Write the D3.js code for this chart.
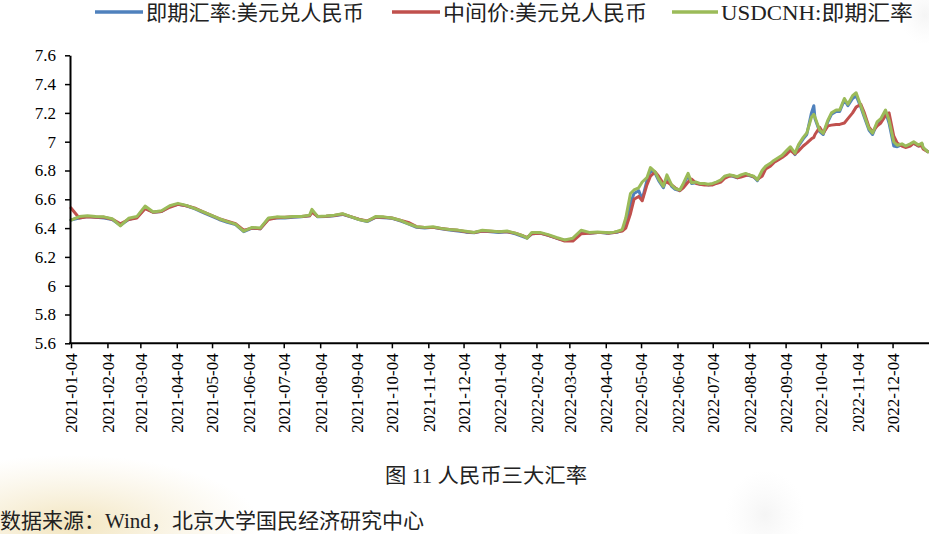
<!DOCTYPE html>
<html><head><meta charset="utf-8">
<script src="https://cdn.jsdelivr.net/npm/d3@7"></script>
<style>
html,body{margin:0;padding:0;background:#fff;}
svg{display:block;}
</style></head>
<body>
<svg id="chart" width="929" height="534"></svg>
<script>
// ---------- DATA ----------
const dates = [
 "2021-01-04","2021-01-11","2021-01-18","2021-01-25","2021-02-01","2021-02-08","2021-02-15","2021-02-22","2021-03-01","2021-03-08","2021-03-15","2021-03-22","2021-03-29",
 "2021-04-05","2021-04-12","2021-04-19","2021-04-26","2021-05-03","2021-05-10","2021-05-17","2021-05-24","2021-05-31","2021-06-07","2021-06-14","2021-06-21","2021-06-28",
 "2021-07-05","2021-07-12","2021-07-19","2021-07-26","2021-07-28","2021-08-02","2021-08-09","2021-08-16","2021-08-23","2021-08-30","2021-09-06","2021-09-13","2021-09-20","2021-09-27",
 "2021-10-04","2021-10-11","2021-10-18","2021-10-25","2021-11-01","2021-11-08","2021-11-15","2021-11-22","2021-11-29","2021-12-06","2021-12-13","2021-12-20","2021-12-27",
 "2022-01-03","2022-01-10","2022-01-17","2022-01-24","2022-01-27","2022-01-31","2022-02-07","2022-02-14","2022-02-21","2022-02-28","2022-03-07","2022-03-14","2022-03-21","2022-03-28",
 "2022-03-31","2022-04-04","2022-04-07","2022-04-11","2022-04-14","2022-04-18","2022-04-21","2022-04-25","2022-04-28",
 "2022-05-02","2022-05-05","2022-05-09","2022-05-12","2022-05-16","2022-05-19","2022-05-23","2022-05-26","2022-05-30",
 "2022-06-02","2022-06-06","2022-06-09","2022-06-13","2022-06-16","2022-06-20","2022-06-23","2022-06-27","2022-06-30",
 "2022-07-04","2022-07-07","2022-07-11","2022-07-14","2022-07-18","2022-07-21","2022-07-25","2022-07-28",
 "2022-08-01","2022-08-04","2022-08-08","2022-08-11","2022-08-15","2022-08-18","2022-08-22","2022-08-25","2022-08-29",
 "2022-09-01","2022-09-05","2022-09-08","2022-09-12","2022-09-15","2022-09-19","2022-09-22","2022-09-26","2022-09-28","2022-09-29",
 "2022-10-03","2022-10-06","2022-10-10","2022-10-13","2022-10-17","2022-10-20","2022-10-24","2022-10-27","2022-10-31",
 "2022-11-03","2022-11-07","2022-11-10","2022-11-14","2022-11-17","2022-11-21","2022-11-24","2022-11-28",
 "2022-12-01","2022-12-05","2022-12-08","2022-12-12","2022-12-15","2022-12-19","2022-12-22","2022-12-26","2022-12-29","2022-12-30",
 "2023-01-03"
];
// 即期汇率:美元兑人民币
const spotCNY = [
 6.456,6.47,6.48,6.475,6.47,6.46,6.42,6.46,6.475,6.54,6.51,6.515,6.55,
 6.565,6.555,6.535,6.51,6.485,6.46,6.44,6.425,6.375,6.40,6.395,6.465,6.47,
 6.47,6.475,6.478,6.485,6.52,6.478,6.48,6.485,6.495,6.478,6.46,6.445,6.475,6.472,
 6.468,6.45,6.43,6.405,6.40,6.405,6.395,6.386,6.38,6.372,6.368,6.38,6.375,
 6.37,6.375,6.36,6.34,6.33,6.36,6.365,6.35,6.33,6.315,6.325,6.375,6.365,6.37,
 6.37,6.365,6.365,6.37,6.372,6.385,6.43,6.57,6.64,
 6.66,6.60,6.73,6.80,6.78,6.73,6.68,6.75,6.69,
 6.67,6.66,6.70,6.765,6.71,6.715,6.705,6.705,6.70,
 6.705,6.715,6.73,6.755,6.765,6.76,6.75,6.765,
 6.77,6.765,6.755,6.73,6.79,6.82,6.84,6.86,6.88,
 6.90,6.93,6.955,6.91,6.97,7.02,7.05,7.20,7.25,7.16,
 7.07,7.05,7.14,7.19,7.21,7.21,7.29,7.25,7.30,
 7.32,7.24,7.17,7.08,7.05,7.13,7.15,7.21,
 7.13,6.97,6.965,6.98,6.965,6.98,6.99,6.97,6.985,6.955,
 6.93
];
// 中间价:美元兑人民币
const centralParity = [
 6.54,6.47,6.478,6.475,6.475,6.462,6.43,6.46,6.47,6.535,6.51,6.515,6.545,
 6.565,6.555,6.54,6.515,6.49,6.465,6.448,6.43,6.385,6.40,6.395,6.46,6.472,
 6.475,6.478,6.48,6.485,6.51,6.48,6.482,6.488,6.498,6.48,6.462,6.45,6.475,6.475,
 6.47,6.455,6.44,6.41,6.405,6.405,6.398,6.39,6.385,6.375,6.37,6.38,6.378,
 6.375,6.375,6.365,6.345,6.335,6.36,6.365,6.35,6.33,6.31,6.31,6.36,6.365,6.37,
 6.37,6.368,6.365,6.37,6.375,6.38,6.40,6.50,6.60,
 6.62,6.59,6.70,6.76,6.79,6.76,6.71,6.72,6.70,
 6.68,6.66,6.68,6.72,6.74,6.71,6.705,6.70,6.70,
 6.70,6.71,6.72,6.745,6.76,6.765,6.75,6.755,
 6.765,6.77,6.755,6.74,6.76,6.81,6.83,6.855,6.875,
 6.89,6.915,6.94,6.915,6.935,6.97,6.99,7.02,7.03,7.05,
 7.10,7.06,7.11,7.115,7.12,7.12,7.13,7.16,7.20,
 7.24,7.26,7.20,7.10,7.07,7.11,7.13,7.18,
 7.20,7.04,6.99,6.97,6.96,6.97,6.99,6.97,6.97,6.95,
 6.93
];
// USDCNH:即期汇率
const usdCNH = [
 6.456,6.48,6.485,6.48,6.478,6.465,6.415,6.468,6.48,6.553,6.512,6.52,6.555,
 6.572,6.558,6.537,6.515,6.49,6.465,6.445,6.428,6.378,6.405,6.40,6.47,6.478,
 6.476,6.48,6.48,6.49,6.53,6.48,6.484,6.49,6.50,6.48,6.46,6.448,6.48,6.478,
 6.47,6.455,6.43,6.41,6.405,6.41,6.398,6.39,6.386,6.378,6.37,6.385,6.38,
 6.375,6.38,6.365,6.345,6.33,6.37,6.37,6.355,6.335,6.318,6.33,6.385,6.37,6.373,
 6.372,6.37,6.368,6.372,6.378,6.39,6.47,6.64,6.665,
 6.68,6.72,6.75,6.82,6.79,6.74,6.69,6.77,6.70,
 6.675,6.665,6.71,6.78,6.715,6.72,6.71,6.71,6.705,
 6.71,6.72,6.735,6.76,6.77,6.765,6.757,6.77,
 6.78,6.77,6.76,6.735,6.80,6.83,6.85,6.87,6.89,
 6.905,6.94,6.965,6.92,6.98,7.03,7.06,7.17,7.19,7.17,
 7.08,7.058,7.15,7.20,7.22,7.22,7.30,7.26,7.32,
 7.34,7.25,7.18,7.09,7.06,7.14,7.16,7.22,
 7.15,7.00,6.975,6.985,6.97,6.985,7.00,6.977,6.99,6.96,
 6.93
];
const seriesNames = ["即期汇率:美元兑人民币","中间价:美元兑人民币","USDCNH:即期汇率"];
const seriesColors = ["#4F81BD","#C0504D","#9BBB59"];
const xTickLabels = ["2021-01-04","2021-02-04","2021-03-04","2021-04-04","2021-05-04","2021-06-04","2021-07-04","2021-08-04","2021-09-04","2021-10-04","2021-11-04","2021-12-04",
 "2022-01-04","2022-02-04","2022-03-04","2022-04-04","2022-05-04","2022-06-04","2022-07-04","2022-08-04","2022-09-04","2022-10-04","2022-11-04","2022-12-04"];
const yTickLabels = ["5.6","5.8","6","6.2","6.4","6.6","6.8","7","7.2","7.4","7.6"];
const titleText = "图 11  人民币三大汇率";
const sourceText = "数据来源：Wind，北京大学国民经济研究中心";

// ---------- CHART ----------
const svg = d3.select("#chart");
const parse = d3.timeParse("%Y-%m-%d");
const serif = "'Liberation Serif','Times New Roman',serif";
const cjk = "'Liberation Serif','Noto Sans CJK SC',serif";

// background tint
const defs = svg.append("defs");
const g1 = defs.append("radialGradient").attr("id","bl").attr("cx","50%").attr("cy","50%").attr("r","50%");
g1.append("stop").attr("offset","0%").attr("stop-color","#eedca8").attr("stop-opacity",0.75);
g1.append("stop").attr("offset","100%").attr("stop-color","#f3e6c4").attr("stop-opacity",0);
svg.append("ellipse").attr("cx",70).attr("cy",525).attr("rx",190).attr("ry",70).attr("fill","url(#bl)");
const g2 = defs.append("radialGradient").attr("id","wm").attr("cx","50%").attr("cy","50%").attr("r","50%");
g2.append("stop").attr("offset","0%").attr("stop-color","#e2e2e2").attr("stop-opacity",0.35);
g2.append("stop").attr("offset","100%").attr("stop-color","#eeeeee").attr("stop-opacity",0);
svg.append("ellipse").attr("cx",765).attr("cy",515).attr("rx",40).attr("ry",45).attr("fill","url(#wm)");
svg.append("ellipse").attr("cx",925).attr("cy",15).attr("rx",25).attr("ry",30).attr("fill","url(#wm)");

const x = d3.scaleTime().domain([parse("2021-01-04"), parse("2023-01-04")]).range([71, 929]);
const y = d3.scaleLinear().domain([5.6, 7.6]).range([343.3, 55.3]);

const series = [spotCNY, centralParity, usdCNH].map((vals, i) => ({
  name: seriesNames[i], color: seriesColors[i],
  values: dates.map((d, j) => ({date: parse(d), v: vals[j]}))
}));

const line = d3.line().x(d => x(d.date)).y(d => y(d.v));
svg.append("g").selectAll("path").data(series).join("path")
  .attr("d", d => line(d.values))
  .attr("fill","none").attr("stroke", d => d.color)
  .attr("stroke-width",3).attr("stroke-linejoin","round").attr("stroke-linecap","round");

// Y axis
const yAxis = d3.axisLeft(y).tickValues(yTickLabels.map(Number))
  .tickFormat((d,i) => yTickLabels[i]).tickSize(5).tickSizeOuter(0).tickPadding(9);
const gy = svg.append("g").attr("transform","translate(70,0)").call(yAxis);
gy.select(".domain").attr("stroke","#000").attr("stroke-width",2);
gy.selectAll(".tick line").attr("stroke","#000").attr("stroke-width",1.5);
gy.selectAll("text").attr("font-family",serif).attr("font-size","17px").attr("fill","#000");

// X axis
const xAxis = d3.axisBottom(x).tickValues(xTickLabels.map(parse))
  .tickFormat((d,i) => xTickLabels[i]).tickSize(5).tickSizeOuter(0);
const gx = svg.append("g").attr("transform","translate(0,343.3)").call(xAxis);
gx.select(".domain").remove();
gx.append("line").attr("x1",69).attr("x2",929).attr("y1",0).attr("y2",0).attr("stroke","#000").attr("stroke-width",2);
gx.selectAll(".tick line").attr("stroke","#000").attr("stroke-width",1.5);
gx.selectAll("text").attr("font-family",serif).attr("font-size","17px").attr("fill","#000")
  .attr("text-anchor","end").attr("transform","rotate(-90)")
  .attr("x",-10).attr("y",0).attr("dy","0.35em");

// Legend
const legendPos = [[95,143,146,218],[392,440,443,204],[672,718,721,192]];
const lg = svg.append("g");
series.forEach((s,i) => {
  const p = legendPos[i];
  lg.append("line").attr("x1",p[0]).attr("x2",p[1]).attr("y1",12).attr("y2",12)
    .attr("stroke",s.color).attr("stroke-width",3.5);
  lg.append("text").attr("x",p[2]).attr("y",20).text(s.name)
    .attr("font-family",cjk).attr("font-size","21px").attr("fill","#222")
    .attr("textLength",p[3]).attr("lengthAdjust","spacingAndGlyphs");
});

// Title & source
svg.append("text").attr("x",486).attr("y",483).attr("text-anchor","middle")
  .attr("font-family",cjk).attr("font-size","20px").attr("fill","#222")
  .attr("textLength",202).attr("lengthAdjust","spacingAndGlyphs").text(titleText);
svg.append("text").attr("x",0).attr("y",528)
  .attr("font-family",cjk).attr("font-size","21px").attr("fill","#222")
  .attr("textLength",424).attr("lengthAdjust","spacingAndGlyphs").text(sourceText);
</script>
</body></html>
